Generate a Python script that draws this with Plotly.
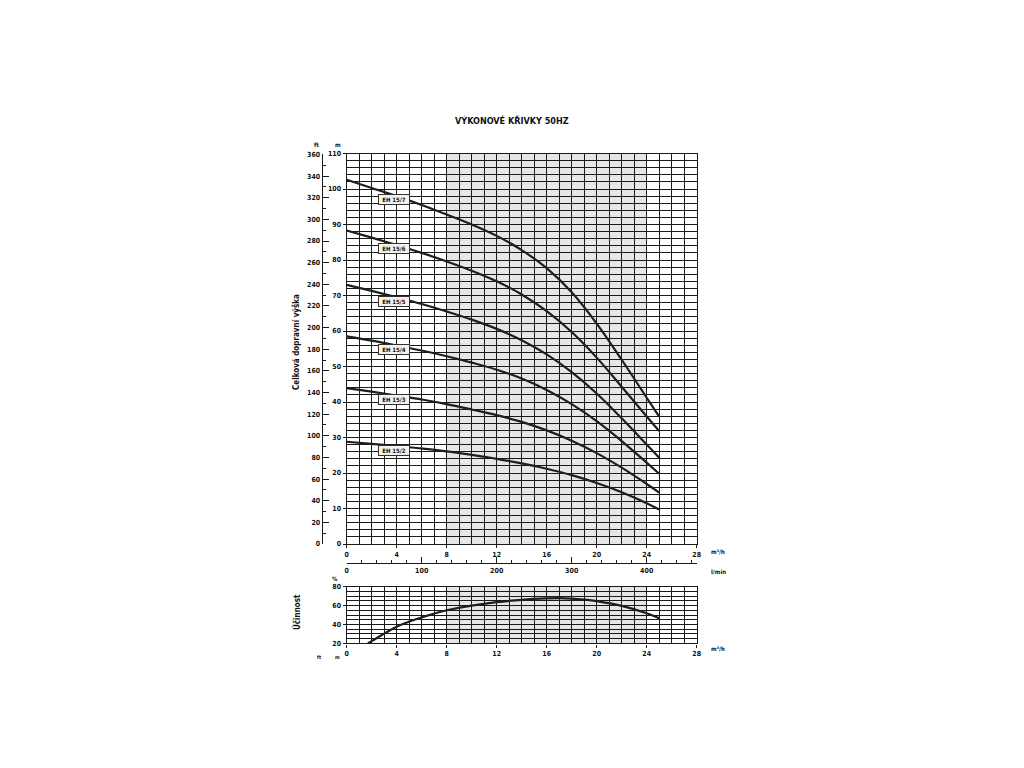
import numpy as np
import plotly.graph_objects as go

# ---------------- data ----------------
flow = [0, 2, 4, 6, 8, 10, 12, 14, 16, 18, 20, 22, 24, 25]  # m3/h

head = {
    "EH 15/7": [102.6, 100.3, 98.0, 95.5, 92.8, 90.0, 86.8, 82.8, 77.7, 70.9, 62.1, 51.9, 41.2, 35.9],
    "EH 15/6": [88.3, 86.3, 84.2, 82.0, 79.6, 77.0, 74.0, 70.3, 65.6, 59.7, 52.5, 44.3, 35.9, 31.8],
    "EH 15/5": [73.0, 71.3, 69.5, 67.6, 65.5, 63.2, 60.6, 57.4, 53.4, 48.4, 42.4, 35.4, 28.0, 24.3],
    "EH 15/4": [58.5, 57.3, 55.9, 54.5, 52.9, 51.1, 49.1, 46.6, 43.4, 39.4, 34.6, 29.0, 22.9, 19.8],
    "EH 15/3": [43.9, 42.9, 41.8, 40.7, 39.4, 37.9, 36.3, 34.4, 32.0, 29.1, 25.6, 21.5, 16.9, 14.5],
    "EH 15/2": [28.8, 28.2, 27.6, 26.9, 26.1, 25.1, 24.0, 22.7, 21.2, 19.4, 17.2, 14.6, 11.5, 9.7],
}

eff_flow = [1.7, 2, 4, 6, 8, 10, 12, 14, 16, 17, 18, 19, 20, 22, 24, 25]
eff_val = [20, 22.3, 37.6, 47.5, 55, 60, 63.6, 66.1, 67.6, 67.9, 67.4, 66.3, 64.7, 59.6, 51.8, 46.5]

flow_ticks = [0, 4, 8, 12, 16, 20, 24, 28]
lmin_ticks = [0, 100, 200, 300, 400]
head_ticks_m = list(range(0, 111, 10))
head_ticks_ft = list(range(0, 361, 20))
eff_ticks = [20, 40, 60, 80]
shaded_range = [8, 24]

# ---------------- layout helpers ----------------
OFF = 8  # default page body margin
W, H = 1024 - 2 * OFF, 768 - 2 * OFF
FONT = "DejaVu Sans Condensed, Liberation Sans Narrow, Arial Narrow, sans-serif"


def px_x(p):
    return (p - OFF) / W


def px_y(p):
    return (H - (p - OFF)) / H


X0, X1 = 346.7, 696.7
MAIN_Y0, MAIN_Y1 = 544.0, 153.5
EFF_Y0, EFF_Y1 = 643.3, 586.7

GRID = "#1a1a1a"
tickfont = dict(family=FONT, size=7, color="#111", weight="bold")

fig = go.Figure()

for name, vals in head.items():
    fig.add_trace(go.Scatter(x=flow, y=vals, mode="lines", name=name,
                             line=dict(color="#1e1e1e", width=2.2, shape="spline", smoothing=1.0),
                             xaxis="x", yaxis="y", showlegend=False, hoverinfo="skip"))

fig.add_trace(go.Scatter(x=eff_flow, y=eff_val, mode="lines", name="Účinnost",
                         line=dict(color="#1e1e1e", width=2.2, shape="spline", smoothing=1.0),
                         xaxis="x2", yaxis="y2", showlegend=False, hoverinfo="skip"))

# helper invisible traces so overlay axes are drawn
lmin_max = 28 * 1000 / 60
fig.add_trace(go.Scatter(x=[0, lmin_max], y=[0, 0], mode="markers", marker=dict(opacity=0),
                         xaxis="x3", yaxis="y", showlegend=False, hoverinfo="skip"))
fig.add_trace(go.Scatter(x=[0, 0], y=[0, 360], mode="markers", marker=dict(opacity=0),
                         xaxis="x", yaxis="y3", showlegend=False, hoverinfo="skip"))

# shaded operating band
for xr, yr, yrange in (("x", "y", [0, 110]), ("x2", "y2", [20, 80])):
    fig.add_shape(type="rect", xref=xr, yref=yr, x0=shaded_range[0], x1=shaded_range[1],
                  y0=yrange[0], y1=yrange[1], fillcolor="#e6e6e6", line=dict(width=0), layer="below")

# curve labels
label_x = 3.8
for name, vals in head.items():
    yl = float(np.interp(label_x, flow, vals)) - 1.3
    fig.add_annotation(x=label_x, y=yl, xref="x", yref="y", text=name, showarrow=False,
                       font=dict(family=FONT, size=6, color="#111", weight="bold"),
                       bgcolor="#f2f2f2", bordercolor="#333", borderwidth=1, borderpad=1, width=28)

dx = [px_x(X0), px_x(X1)]
common_grid = dict(showgrid=True, gridcolor=GRID, gridwidth=1.4, showline=True, linecolor=GRID,
                   linewidth=1.4, mirror=True, zeroline=False, tickfont=tickfont, automargin=False)

fig.update_layout(
    width=W, height=H, margin=dict(l=0, r=0, t=0, b=0, autoexpand=False),
    paper_bgcolor="white", plot_bgcolor="white", showlegend=False,
    xaxis=dict(domain=dx, anchor="y", range=[0, 28], tickvals=flow_ticks, ticks="outside",
               ticklen=3, tickcolor=GRID,
               minor=dict(dtick=1, showgrid=True, gridcolor=GRID, gridwidth=1.4), **common_grid),
    yaxis=dict(domain=[px_y(MAIN_Y0), px_y(MAIN_Y1)], anchor="x", range=[0, 110],
               tickvals=head_ticks_m, ticks="outside", ticklen=3, tickcolor=GRID,
               minor=dict(dtick=2, showgrid=True, gridcolor=GRID, gridwidth=1.4), **common_grid),
    xaxis2=dict(domain=dx, anchor="y2", range=[0, 28], tickvals=flow_ticks, ticks="outside",
                ticklen=3, tickcolor=GRID,
                minor=dict(dtick=1, showgrid=True, gridcolor=GRID, gridwidth=1.4), **common_grid),
    yaxis2=dict(domain=[px_y(EFF_Y0), px_y(EFF_Y1)], anchor="x2", range=[20, 80],
                tickvals=eff_ticks, ticks="outside", ticklen=3, tickcolor=GRID,
                minor=dict(dtick=5, showgrid=True, gridcolor=GRID, gridwidth=1.4), **common_grid),
    yaxis3=dict(overlaying="y", anchor="free", position=px_x(321.7), side="left",
                range=[0, 110 * 3.28084], tickvals=head_ticks_ft, ticks="inside", ticklen=6,
                tickcolor=GRID, showgrid=False, showline=True, linecolor=GRID, linewidth=1.2,
                zeroline=False, tickfont=tickfont, automargin=False,
                minor=dict(dtick=10, ticks="inside", ticklen=3, tickcolor=GRID)),
    xaxis3=dict(overlaying="x", anchor="free", position=px_y(563), side="bottom",
                range=[0, lmin_max], tickvals=lmin_ticks, ticks="inside", ticklen=6,
                tickcolor=GRID, showgrid=False, showline=True, linecolor=GRID, linewidth=1.2,
                zeroline=False, tickfont=tickfont, automargin=False,
                minor=dict(dtick=20, ticks="inside", ticklen=3, tickcolor=GRID)),
)

txt = dict(family=FONT, color="#111", weight="bold")


def note(text, x, y, size=8, angle=0, xanchor="center"):
    fig.add_annotation(x=px_x(x), y=px_y(y), xref="paper", yref="paper", text=text,
                       showarrow=False, textangle=angle, xanchor=xanchor, yanchor="middle",
                       font=dict(size=size, **txt))


note("VÝKONOVÉ KŘIVKY 50HZ", 512, 120, size=9)
note("ft", 316, 145, size=6)
note("m", 338, 145, size=6)
note("m³/h", 709, 551, size=6, xanchor="left")
note("l/min", 709, 571, size=6, xanchor="left")
note("m³/h", 709, 648, size=6, xanchor="left")
note("%", 335, 578, size=6)
note("Celková dopravní výška", 296, 342, size=8, angle=-90)
note("Účinnost", 296, 612, size=8, angle=-90)
note("ft", 319, 657, size=5)
note("m", 337, 657, size=5)

fig.write_html("out.html")
